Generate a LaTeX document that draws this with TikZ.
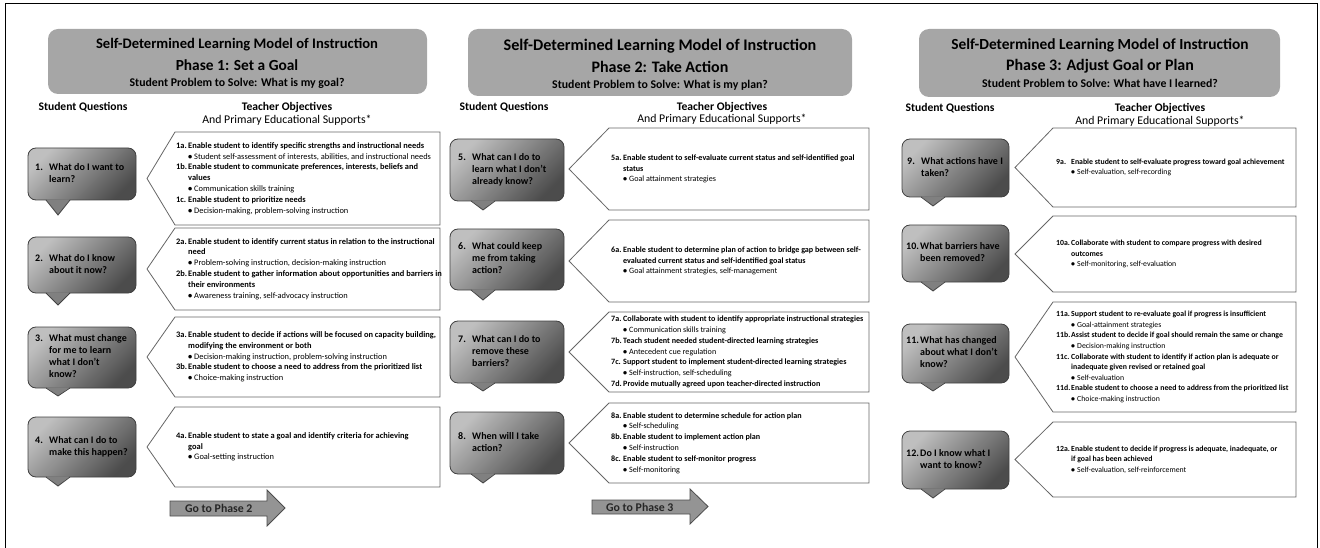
\documentclass[tikz,border=0pt]{standalone}
\usepackage{fontspec}
\setmainfont{Carlito}

\newlength\labw
\newcommand{\lab}[1]{\makebox[\labw][l]{#1}}
\newcommand{\supp}[1]{\makebox[6pt][l]{\textbullet}{\mdseries #1}}
\newcommand{\qnum}[1]{\makebox[14pt][l]{#1}}

\begin{document}
\begin{tikzpicture}[x=1pt,y=-1pt,
  headbox/.style={fill=black!35,rounded corners=10pt},
  qbox/.style={draw=black!75,line width=.8pt,top color=black!25,bottom color=black!70,shading angle=45,rounded corners=8pt},
  qtail/.style={fill=black!50},
  qedge/.style={draw=black!75,line width=.8pt},
  objbox/.style={draw=black!60,line width=.8pt,fill=white},
  goarrow/.style={draw=black!70,line width=.8pt,fill=black!42},
  qtext/.style={anchor=west,inner sep=0pt,font=\fontsize{10}{12}\selectfont\bfseries},
  objtext/.style={anchor=west,inner sep=0pt,
    font=\fontsize{#1}{10.8}\selectfont\bfseries,execute at begin node={\setlength\labw{12pt}}},
  objsmall/.style={anchor=west,inner sep=0pt,
    font=\fontsize{7.8}{10.6}\selectfont\bfseries,execute at begin node={\setlength\labw{15pt}}},
  coltitle/.style={inner sep=0pt,font=\fontsize{11.6}{13}\selectfont\bfseries},
  colsub/.style={inner sep=0pt,font=\fontsize{11.8}{14}\selectfont},
  gotext/.style={anchor=west,inner sep=0pt,font=\fontsize{11.8}{13}\selectfont\bfseries,text=black!85}]
\useasboundingbox (0,0) rectangle (1320,548);
\draw[line width=1pt] (5,552) -- (5,4) -- (1317,4) -- (1317,552);

\fill[headbox] (48,29) rectangle (427,94);
\fill[headbox] (468,29) rectangle (852,96);
\fill[headbox] (919,29) rectangle (1280,97);

\node[inner sep=0pt,font=\fontsize{14.6}{16}\selectfont\bfseries] (h1a) at (237,45) {Self-Determined Learning Model of Instruction};
\node[inner sep=0pt,font=\fontsize{15.4}{16}\selectfont\bfseries] (h1b) at (237,65) {Phase 1: Set a Goal};
\node[inner sep=0pt,font=\fontsize{11.8}{14}\selectfont\bfseries] (h1c) at (237,83) {Student Problem to Solve: What is my goal?};
\node[inner sep=0pt,font=\fontsize{16.2}{18}\selectfont\bfseries] (h2a) at (660,46) {Self-Determined Learning Model of Instruction};
\node[inner sep=0pt,font=\fontsize{16}{18}\selectfont\bfseries] (h2b) at (660,67) {Phase 2: Take Action};
\node[inner sep=0pt,font=\fontsize{11.8}{14}\selectfont\bfseries] (h2c) at (660,85) {Student Problem to Solve: What is my plan?};
\node[inner sep=0pt,font=\fontsize{15.4}{17}\selectfont\bfseries] (h3a) at (1100,45) {Self-Determined Learning Model of Instruction};
\node[inner sep=0pt,font=\fontsize{16}{17}\selectfont\bfseries] (h3b) at (1100,66) {Phase 3: Adjust Goal or Plan};
\node[inner sep=0pt,font=\fontsize{11.8}{14}\selectfont\bfseries] (h3c) at (1100,83) {Student Problem to Solve: What have I learned?};

\node[coltitle] (sq1) at (83,107) {Student Questions};
\node[coltitle] (to1) at (287,107) {Teacher Objectives};
\node[colsub] (ps1) at (287,120) {And Primary Educational Supports*};
\node[coltitle] (sq2) at (504,107) {Student Questions};
\node[coltitle] (to2) at (722,107) {Teacher Objectives};
\node[colsub] (ps2) at (722,119) {And Primary Educational Supports*};
\node[coltitle] (sq3) at (950,108) {Student Questions};
\node[coltitle] (to3) at (1160,108) {Teacher Objectives};
\node[colsub] (ps3) at (1160,121) {And Primary Educational Supports*};

\draw[qbox] (28,148) rectangle (136,200);
\fill[qtail] (46,199.3) -- (58,215) -- (70,199.3) -- cycle;
\draw[qedge] (46,200) -- (58,215) -- (70,200);
\draw[qbox] (28,237) rectangle (136,293);
\fill[qtail] (46,292.3) -- (58,305) -- (70,292.3) -- cycle;
\draw[qedge] (46,293) -- (58,305) -- (70,293);
\draw[qbox] (28,327) rectangle (136,388);
\fill[qtail] (46,387.3) -- (58,396) -- (70,387.3) -- cycle;
\draw[qedge] (46,388) -- (58,396) -- (70,388);
\draw[qbox] (28,417) rectangle (136,477);
\fill[qtail] (46,476.3) -- (58,486) -- (70,476.3) -- cycle;
\draw[qedge] (46,477) -- (58,486) -- (70,477);

\draw[qbox] (450,139) rectangle (564,201);
\fill[qtail] (471,200.3) -- (483,210) -- (495,200.3) -- cycle;
\draw[qedge] (471,201) -- (483,210) -- (495,201);
\draw[qbox] (450,229) rectangle (564,290);
\fill[qtail] (471,289.3) -- (483,300) -- (495,289.3) -- cycle;
\draw[qedge] (471,290) -- (483,300) -- (495,290);
\draw[qbox] (450,321) rectangle (564,383);
\fill[qtail] (471,382.3) -- (483,391) -- (495,382.3) -- cycle;
\draw[qedge] (471,383) -- (483,391) -- (495,383);
\draw[qbox] (450,412) rectangle (564,474);
\fill[qtail] (471,473.3) -- (483,483) -- (495,473.3) -- cycle;
\draw[qedge] (471,474) -- (483,483) -- (495,474);

\draw[qbox] (902,139) rectangle (1009,197);
\fill[qtail] (921,196.3) -- (933,206) -- (945,196.3) -- cycle;
\draw[qedge] (921,197) -- (933,206) -- (945,197);
\draw[qbox] (902,225) rectangle (1009,282);
\fill[qtail] (921,281.3) -- (933,291) -- (945,281.3) -- cycle;
\draw[qedge] (921,282) -- (933,291) -- (945,282);
\draw[qbox] (902,324) rectangle (1009,383);
\fill[qtail] (921,382.3) -- (933,391) -- (945,382.3) -- cycle;
\draw[qedge] (921,383) -- (933,391) -- (945,383);
\draw[qbox] (902,431) rectangle (1009,489);
\fill[qtail] (921,488.3) -- (933,498) -- (945,488.3) -- cycle;
\draw[qedge] (921,489) -- (933,498) -- (945,489);

\node[qtext] (q1) at (35,174) {\begin{tabular}{@{}l@{}l@{}}\qnum{1.} & What do I want to\\ & learn?\end{tabular}};
\node[qtext] (q2) at (35,265) {\begin{tabular}{@{}l@{}l@{}}\qnum{2.} & What do I know\\ & about it now?\end{tabular}};
\node[qtext] (q3) at (35,357.5) {\begin{tabular}{@{}l@{}l@{}}\qnum{3.} & What must change\\ & for me to learn\\ & what I don’t\\ & know?\end{tabular}};
\node[qtext] (q4) at (35,447) {\begin{tabular}{@{}l@{}l@{}}\qnum{4.} & What can I do to\\ & make this happen?\end{tabular}};
\node[qtext] (q5) at (458,170) {\begin{tabular}{@{}l@{}l@{}}\qnum{5.} & What can I do to\\ & learn what I don’t\\ & already know?\end{tabular}};
\node[qtext] (q6) at (458,259.5) {\begin{tabular}{@{}l@{}l@{}}\qnum{6.} & What could keep\\ & me from taking\\ & action?\end{tabular}};
\node[qtext] (q7) at (458,352) {\begin{tabular}{@{}l@{}l@{}}\qnum{7.} & What can I do to\\ & remove these\\ & barriers?\end{tabular}};
\node[qtext] (q8) at (458,443) {\begin{tabular}{@{}l@{}l@{}}\qnum{8.} & When will I take\\ & action?\end{tabular}};
\node[qtext] (q9) at (907,168) {\begin{tabular}{@{}l@{}l@{}}\qnum{9.} & What actions have I\\ & taken?\end{tabular}};
\node[qtext] (q10) at (906,253.5) {\begin{tabular}{@{}l@{}l@{}}\qnum{10.} & What barriers have\\ & been removed?\end{tabular}};
\node[qtext] (q11) at (906,353.5) {\begin{tabular}{@{}l@{}l@{}}\qnum{11.} & What has changed\\ & about what I don’t\\ & know?\end{tabular}};
\node[qtext] (q12) at (906,460) {\begin{tabular}{@{}l@{}l@{}}\qnum{12.} & Do I know what I\\ & want to know?\end{tabular}};

\draw[objbox] (147,178.5) -- (175,132) -- (440,132) -- (440,225) -- (175,225) -- cycle;
\draw[objbox] (147,269) -- (175,228) -- (440,228) -- (440,310) -- (175,310) -- cycle;
\draw[objbox] (147,357) -- (175,317) -- (440,317) -- (440,397) -- (175,397) -- cycle;
\draw[objbox] (147,447) -- (175,407) -- (440,407) -- (440,487) -- (175,487) -- cycle;
\draw[objbox] (569,169) -- (609,128) -- (869,128) -- (869,210) -- (609,210) -- cycle;
\draw[objbox] (569,261) -- (609,220) -- (869,220) -- (869,302) -- (609,302) -- cycle;
\draw[objbox] (569,352) -- (609,312) -- (869,312) -- (869,392) -- (609,392) -- cycle;
\draw[objbox] (569,443) -- (609,403) -- (869,403) -- (869,483) -- (609,483) -- cycle;
\draw[objbox] (1015,167.5) -- (1053,128) -- (1296,128) -- (1296,207) -- (1053,207) -- cycle;
\draw[objbox] (1015,254) -- (1053,216) -- (1296,216) -- (1296,292) -- (1053,292) -- cycle;
\draw[objbox] (1015,357) -- (1053,302) -- (1296,302) -- (1296,412) -- (1053,412) -- cycle;
\draw[objbox] (1015,459.5) -- (1053,422) -- (1296,422) -- (1296,497) -- (1053,497) -- cycle;

\node[objtext=8.4] (o1) at (176,178.5) {\begin{tabular}{@{}l@{}l@{}}
\lab{1a.} & Enable student to identify specific strengths and instructional needs\\
 & \supp{Student self-assessment of interests, abilities, and instructional needs}\\
\lab{1b.} & Enable student to communicate preferences, interests, beliefs and\\
 & values\\
 & \supp{Communication skills training}\\
\lab{1c.} & Enable student to prioritize needs\\
 & \supp{Decision-making, problem-solving instruction}
\end{tabular}};
\node[objtext=8.4] (o2) at (176,269) {\begin{tabular}{@{}l@{}l@{}}
\lab{2a.} & Enable student to identify current status in relation to the instructional\\
 & need\\
 & \supp{Problem-solving instruction, decision-making instruction}\\
\lab{2b.} & Enable student to gather information about opportunities and barriers in\\
 & their environments\\
 & \supp{Awareness training, self-advocacy instruction}
\end{tabular}};
\node[objtext=8.4] (o3) at (176,357) {\begin{tabular}{@{}l@{}l@{}}
\lab{3a.} & Enable student to decide if actions will be focused on capacity building,\\
 & modifying the environment or both\\
 & \supp{Decision-making instruction, problem-solving instruction}\\
\lab{3b.} & Enable student to choose a need to address from the prioritized list\\
 & \supp{Choice-making instruction}
\end{tabular}};
\node[objtext=8.4] (o4) at (176,447) {\begin{tabular}{@{}l@{}l@{}}
\lab{4a.} & Enable student to state a goal and identify criteria for achieving\\
 & goal\\
 & \supp{Goal-setting instruction}
\end{tabular}};

\node[objtext=8.1] (o5) at (611,169) {\begin{tabular}{@{}l@{}l@{}}
\lab{5a.} & Enable student to self-evaluate current status and self-identified goal\\
 & status\\
 & \supp{Goal attainment strategies}
\end{tabular}};
\node[objtext=8.1] (o6) at (611,261) {\begin{tabular}{@{}l@{}l@{}}
\lab{6a.} & Enable student to determine plan of action to bridge gap between self-\\
 & evaluated current status and self-identified goal status\\
 & \supp{Goal attainment strategies, self-management}
\end{tabular}};
\node[objtext=8.1] (o7) at (611,352) {\begin{tabular}{@{}l@{}l@{}}
\lab{7a.} & Collaborate with student to identify appropriate instructional strategies\\
 & \supp{Communication skills training}\\
\lab{7b.} & Teach student needed student-directed learning strategies\\
 & \supp{Antecedent cue regulation}\\
\lab{7c.} & Support student to implement student-directed learning strategies\\
 & \supp{Self-instruction, self-scheduling}\\
\lab{7d.} & Provide mutually agreed upon teacher-directed instruction
\end{tabular}};
\node[objtext=8.1] (o8) at (611,443) {\begin{tabular}{@{}l@{}l@{}}
\lab{8a.} & Enable student to determine schedule for action plan\\
 & \supp{Self-scheduling}\\
\lab{8b.} & Enable student to implement action plan\\
 & \supp{Self-instruction}\\
\lab{8c.} & Enable student to self-monitor progress\\
 & \supp{Self-monitoring}
\end{tabular}};

\node[objsmall] (o9) at (1056,167.5) {\begin{tabular}{@{}l@{}l@{}}
\lab{9a.} & Enable student to self-evaluate progress toward goal achievement\\
 & \supp{Self-evaluation, self-recording}
\end{tabular}};
\node[objsmall] (o10) at (1056,254) {\begin{tabular}{@{}l@{}l@{}}
\lab{10a.} & Collaborate with student to compare progress with desired\\
 & outcomes\\
 & \supp{Self-monitoring, self-evaluation}
\end{tabular}};
\node[objsmall] (o11) at (1056,357) {\begin{tabular}{@{}l@{}l@{}}
\lab{11a.} & Support student to re-evaluate goal if progress is insufficient\\
 & \supp{Goal-attainment strategies}\\
\lab{11b.} & Assist student to decide if goal should remain the same or change\\
 & \supp{Decision-making instruction}\\
\lab{11c.} & Collaborate with student to identify if action plan is adequate or\\
 & inadequate given revised or retained goal\\
 & \supp{Self-evaluation}\\
\lab{11d.} & Enable student to choose a need to address from the prioritized list\\
 & \supp{Choice-making instruction}
\end{tabular}};
\node[objsmall] (o12) at (1056,459.5) {\begin{tabular}{@{}l@{}l@{}}
\lab{12a.} & Enable student to decide if progress is adequate, inadequate, or\\
 & if goal has been achieved\\
 & \supp{Self-evaluation, self-reinforcement}
\end{tabular}};

\draw[goarrow] (170,501) -- (267,501) -- (267,490) -- (285,508) -- (267,526) -- (267,516) -- (170,516) -- cycle;
\node[gotext] (go2) at (185,508.5) {Go to Phase 2};
\draw[goarrow] (592,500) -- (690,500) -- (690,489) -- (708,506.5) -- (690,524) -- (690,514) -- (592,514) -- cycle;
\node[gotext] (go3) at (606,507) {Go to Phase 3};
\end{tikzpicture}
\end{document}
